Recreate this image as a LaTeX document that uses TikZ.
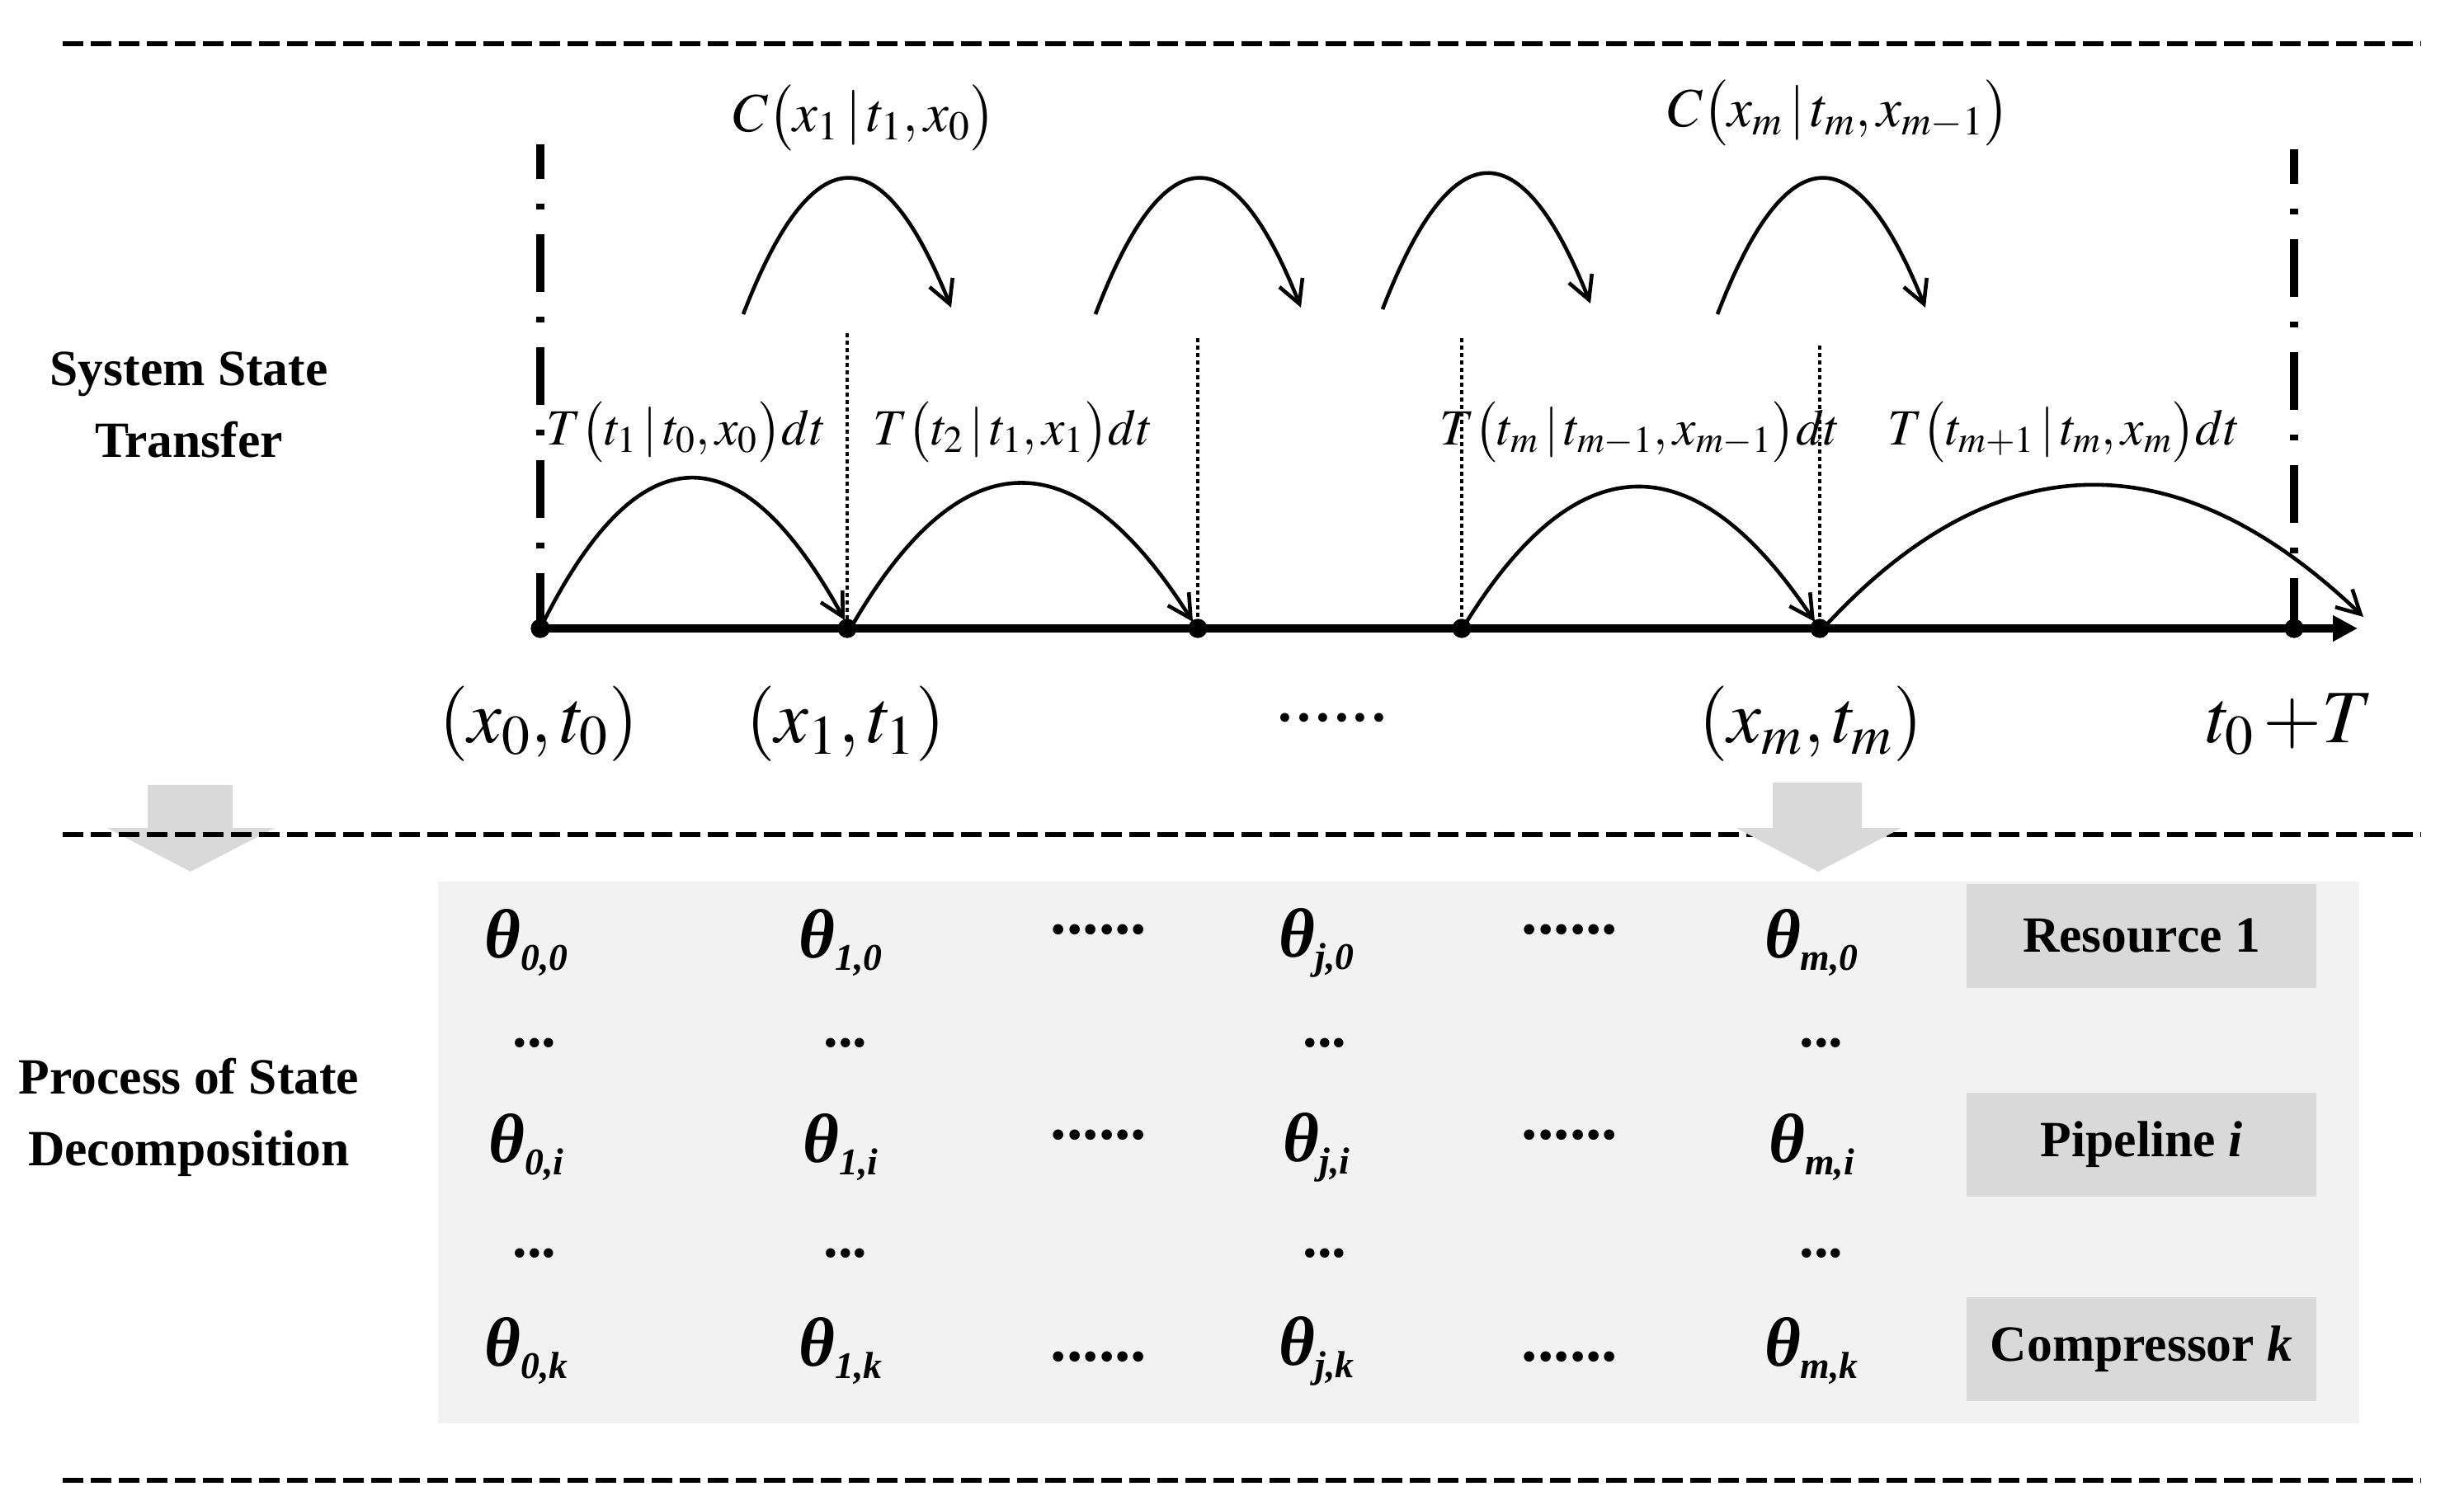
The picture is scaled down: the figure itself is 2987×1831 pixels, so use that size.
\documentclass[tikz,border=0pt]{standalone}
\usepackage{mathptmx}
\usepackage{graphicx}
\usepackage{fontspec}
\setmainfont{Liberation Serif}
\usetikzlibrary{arrows.meta}
\definecolor{panelgrey}{HTML}{F2F2F2}
\definecolor{boxgrey}{HTML}{D9D9D9}
\definecolor{arrowgrey}{HTML}{D9D9D9}
\newcommand{\thv}[1]{{\fontsize{24pt}{26pt}\selectfont\bfseries\itshape θ\raisebox{-4.3pt}{\fontsize{13pt}{15pt}\selectfont #1}}}
\tikzset{
  sepline/.style={line width=1.8pt, dash pattern=on 0.25cm off 0.09cm},
  dashdotline/.style={line width=2.6pt, dash pattern=on 0.7cm off 0.3cm on 0.07cm off 0.3cm, dash phase=0.28cm},
  dotline/.style={line width=1.1pt, dash pattern=on 0.05cm off 0.04cm},
  hop/.style={line width=1.3pt, -{Straight Barb[length=0.28cm,width=0.30cm]}},
  axisline/.style={line width=2.8pt, -{Triangle[length=0.30cm,width=0.30cm]}},
  tdot/.style={circle, fill=black, inner sep=0pt, minimum size=0.23cm},
  greyarrow/.style={fill=arrowgrey, draw=none},
  lbox/.style={fill=boxgrey, minimum width=4.23cm, minimum height=1.26cm, inner sep=0pt, font=\fontsize{17.5pt}{20pt}\selectfont\bfseries},
  sidelab/.style={font=\fontsize{17.5pt}{24.7pt}\selectfont\bfseries, align=center, inner sep=0pt},
  tlab/.style={font=\fontsize{17.5pt}{20pt}\selectfont, inner sep=0pt},
  clab/.style={font=\fontsize{19pt}{21pt}\selectfont, inner sep=0pt},
  ptlab/.style={font=\fontsize{26pt}{28pt}\selectfont, inner sep=0pt},
  thnode/.style={inner sep=0pt},
  vdotsn/.style={font=\fontsize{20pt}{22pt}\selectfont\bfseries, inner sep=0pt, anchor=base},
  hdotsn/.style={font=\fontsize{22pt}{24pt}\selectfont\bfseries, inner sep=0pt, anchor=base},
}
\begin{document}
\begin{tikzpicture}[x=0.01cm,y=-0.01cm]
\useasboundingbox (0,0) rectangle (2987,1831);
% panel
\fill[panelgrey] (531,1069) rectangle (2860,1726);
% grey arrow 1 (under the dashed line)
\fill[greyarrow] (179,952) -- (282,952) -- (282,1004) -- (333,1004) -- (231,1057) -- (130,1004) -- (179,1004) -- cycle;
% separator lines
\coordinate (s1a) at (76,53);   \coordinate (s1b) at (2934,53);
\coordinate (s2a) at (76,1012); \coordinate (s2b) at (2934,1012);
\coordinate (s3a) at (76,1795); \coordinate (s3b) at (2934,1795);
\draw[sepline] (s1a) -- (s1b);
\draw[sepline] (s2a) -- (s2b);
\draw[sepline] (s3a) -- (s3b);
% grey arrow 2 (over the dashed line)
\fill[greyarrow] (2149,949) -- (2257,949) -- (2257,1004) -- (2305,1004) -- (2204,1057) -- (2105,1004) -- (2149,1004) -- cycle;

% side labels
\node[sidelab] (sst) at (229,491) {System State\\Transfer};
\node[sidelab] (psd) at (229,1355) {Process of State\\Decomposition};

% axis points
\node[tdot] (p0) at (655,762) {};
\node[tdot] (p1) at (1027,762) {};
\node[tdot] (p2) at (1452,762) {};
\node[tdot] (p3) at (1772,762) {};
\node[tdot] (p4) at (2206,762) {};
\node[tdot] (p5) at (2781,762) {};
\coordinate (axend) at (2858,762);

% vertical boundary lines
\coordinate (v0) at (655,175);
\coordinate (v5) at (2781,181);
\draw[dashdotline] (v0) -- (p0.center);
\draw[dashdotline] (v5) -- (p5.center);
\coordinate (d1) at (1027,404);
\coordinate (d2) at (1452,410);
\coordinate (d3) at (1772,410);
\coordinate (d4) at (2206,419);
\draw[dotline] (d1) -- (p1.center);
\draw[dotline] (d2) -- (p2.center);
\draw[dotline] (d3) -- (p3.center);
\draw[dotline] (d4) -- (p4.center);

% axis
\draw[axisline] (p0.center) -- (axend);

% transition arcs on the axis
\coordinate (e1) at (1024,752);
\coordinate (s2) at (1031,762);
\coordinate (e2) at (1446,754);
\coordinate (s3) at (1773,762);
\coordinate (e3) at (2200,754);
\coordinate (s4) at (2210,762);
\coordinate (e4) at (2865,748);
\draw[hop] (p0.center) .. controls (774,521) and (897,521) .. (e1);
\draw[hop] (s2) .. controls (1165,529) and (1304,529) .. (e2);
\draw[hop] (s3) .. controls (1911,535) and (2054,535) .. (e3);
\draw[hop] (s4) .. controls (2420,533) and (2640,533) .. (e4);

% upper C arcs
\coordinate (ca1) at (901,381);  \coordinate (cb1) at (1153,373);
\coordinate (ca2) at (1328,381); \coordinate (cb2) at (1577,373);
\coordinate (ca3) at (1676,375); \coordinate (cb3) at (1928,368);
\coordinate (ca4) at (2082,381); \coordinate (cb4) at (2334,373);
\draw[hop] (ca1) .. controls (985,163) and (1069,163) .. (cb1);
\draw[hop] (ca2) .. controls (1411,163) and (1494,163) .. (cb2);
\draw[hop] (ca3) .. controls (1760,157) and (1844,157) .. (cb3);
\draw[hop] (ca4) .. controls (2166,163) and (2250,163) .. (cb4);

% dots on top
\foreach \p in {p0,p1,p2,p3,p4,p5} \node[tdot] at (\p) {};

% C labels
\node[clab] (c1) at (1048,143) {$C\bigl(x_1\,|\,t_1,x_0\bigr)$};
\node[clab] (c2) at (2229,137) {$C\bigl(x_m\,|\,t_m,x_{m-1}\bigr)$};

% T labels
\node[tlab] (tl1) at (832,524) {$T\bigl(t_1\,|\,t_0,x_0\bigr)dt$};
\node[tlab] (tl2) at (1228,524) {$T\bigl(t_2\,|\,t_1,x_1\bigr)dt$};
\node[tlab] (tl3) at (1988,524) {$T\bigl(t_m\,|\,t_{m-1},x_{m-1}\bigr)dt$};
\node[tlab] (tl4) at (2502,524) {$T\bigl(t_{m+1}\,|\,t_m,x_m\bigr)dt$};

% axis point labels
\node[ptlab] (q0) at (653,878) {$(x_0,t_0)$};
\node[ptlab] (q1) at (1025,878) {$(x_1,t_1)$};
\node[ptlab, anchor=base] (qd) at (1615,875) {......};
\node[ptlab] (q4) at (2195,878) {$(x_m,t_m)$};
\node[ptlab] (q5) at (2776,878) {$t_0\,{+}T$};

% decomposition matrix
\node[thnode] (a00) at (638,1143) {\thv{0,0}};
\node[thnode] (a10) at (1019,1143) {\thv{1,0}};
\node[thnode] (aj0) at (1596,1143) {\thv{j,0}};
\node[thnode] (am0) at (2196,1143) {\thv{m,0}};
\node[thnode] (a0i) at (638,1391) {\thv{0,i}};
\node[thnode] (a1i) at (1019,1391) {\thv{1,i}};
\node[thnode] (aji) at (1596,1391) {\thv{j,i}};
\node[thnode] (ami) at (2196,1391) {\thv{m,i}};
\node[thnode] (a0k) at (638,1638) {\thv{0,k}};
\node[thnode] (a1k) at (1019,1638) {\thv{1,k}};
\node[thnode] (ajk) at (1596,1638) {\thv{j,k}};
\node[thnode] (amk) at (2196,1638) {\thv{m,k}};

\node[hdotsn] (h01) at (1332,1132) {......};
\node[hdotsn] (h02) at (1903,1132) {......};
\node[hdotsn] (h11) at (1332,1381) {......};
\node[hdotsn] (h12) at (1903,1381) {......};
\node[hdotsn] (h21) at (1332,1650) {......};
\node[hdotsn] (h22) at (1903,1650) {......};

\node[vdotsn] (u01) at (648,1269) {...};
\node[vdotsn] (u02) at (1025,1269) {...};
\node[vdotsn] (u03) at (1606,1269) {...};
\node[vdotsn] (u04) at (2208,1269) {...};
\node[vdotsn] (u11) at (648,1524) {...};
\node[vdotsn] (u12) at (1025,1524) {...};
\node[vdotsn] (u13) at (1606,1524) {...};
\node[vdotsn] (u14) at (2208,1524) {...};

% label boxes
\node[lbox] (res) at (2596,1135) {Resource 1};
\node[lbox] (pip) at (2596,1388) {Pipeline \textit{i}};
\node[lbox] (com) at (2596,1636) {Compressor \textit{k}};
\end{tikzpicture}
\end{document}
